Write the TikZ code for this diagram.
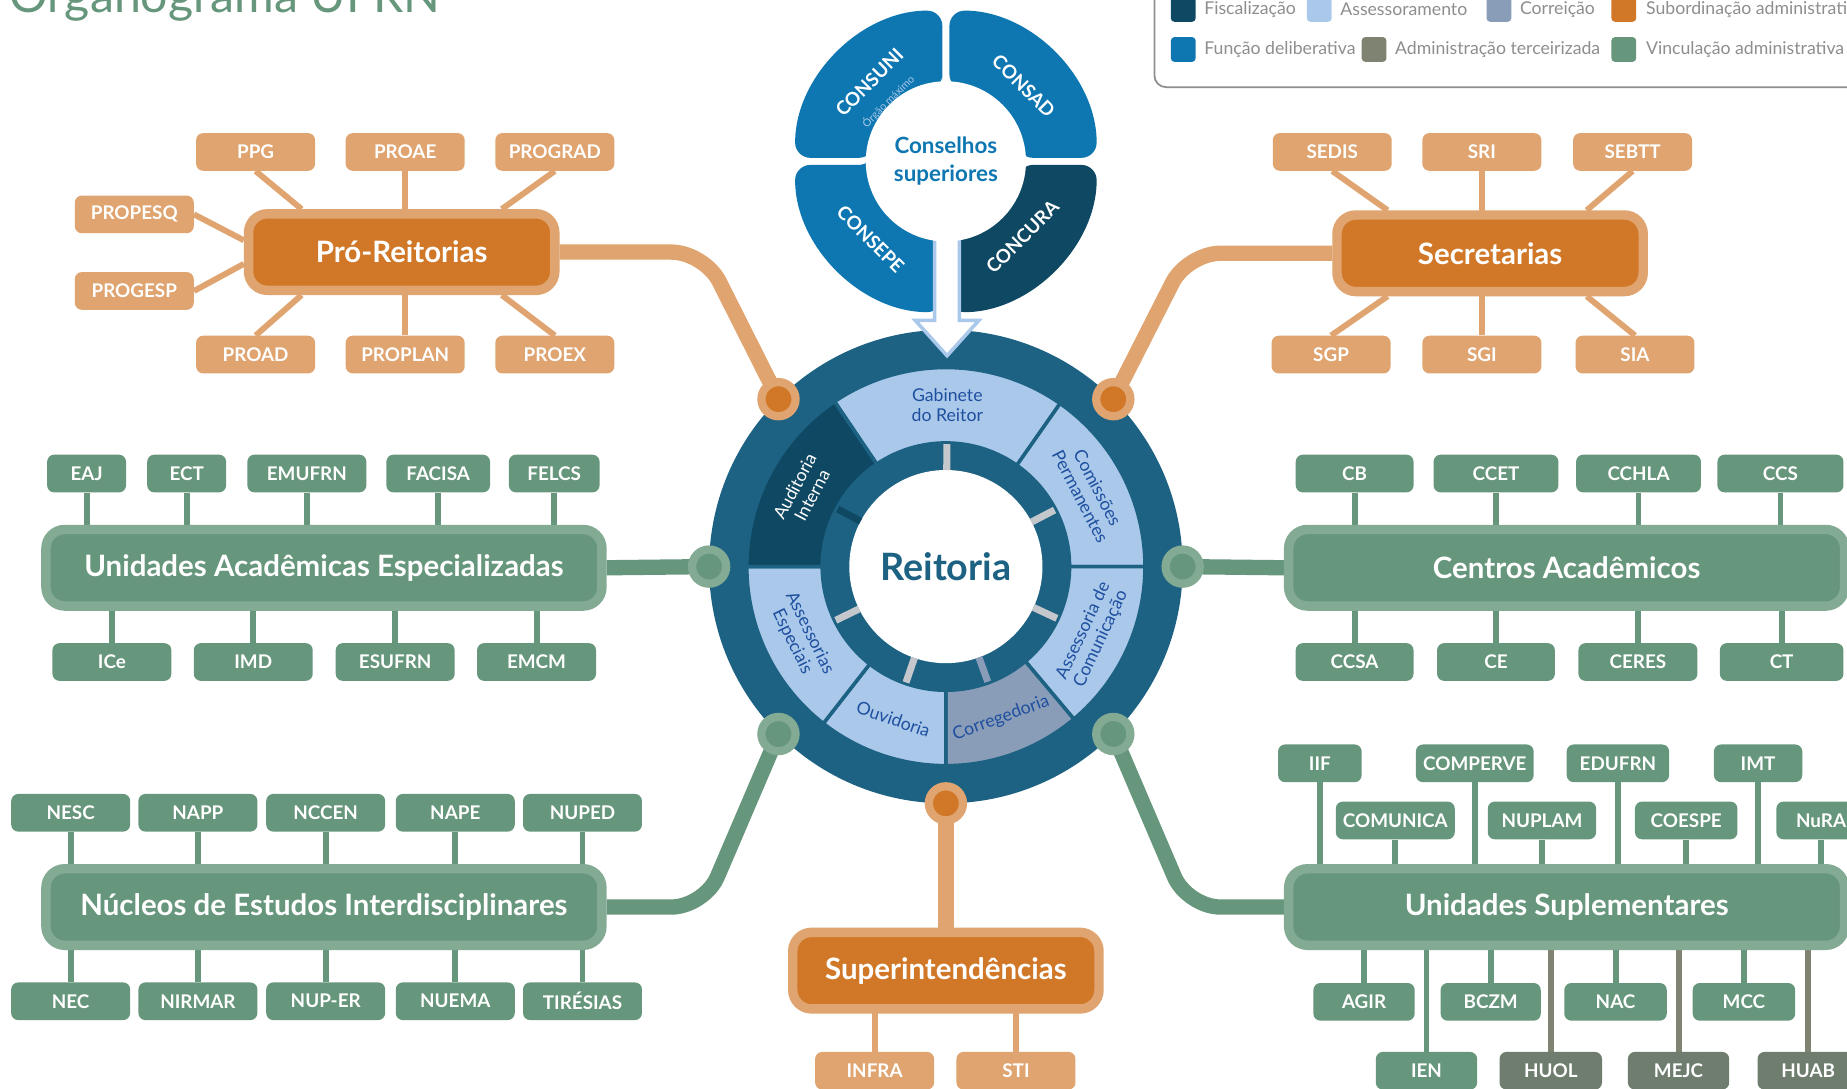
\documentclass[tikz,border=0pt]{standalone}
\usepackage{fontspec}
\setmainfont{Lato}
\usetikzlibrary{calc,backgrounds,positioning}

\definecolor{fisc}{HTML}{0F4862}
\definecolor{assess}{HTML}{A9C8EA}
\definecolor{correi}{HTML}{8A9DB8}
\definecolor{subord}{HTML}{D17828}
\definecolor{delib}{HTML}{0E77B2}
\definecolor{terc}{HTML}{7F8372}
\definecolor{hosp}{HTML}{6E7D6E}
\definecolor{vinc}{HTML}{66967B}
\definecolor{orlight}{HTML}{DFA46F}
\definecolor{grlight}{HTML}{83AA93}
\definecolor{ring}{HTML}{1D6283}
\definecolor{segtext}{HTML}{1F4F9F}
\definecolor{tickgray}{HTML}{C4C8CC}
\definecolor{legtext}{HTML}{8E8E8E}

\tikzset{
  mainbox/.style={rounded corners=16pt, line width=8pt, minimum width=260pt,
    minimum height=65pt, inner sep=0pt, text=white,
    font=\fontsize{25}{28}\selectfont\bfseries},
  ormain/.style={mainbox, fill=subord, draw=orlight},
  grmain/.style={mainbox, fill=vinc, draw=grlight, minimum width=472pt},
  subbox/.style={rounded corners=6pt, minimum width=101pt, minimum height=32pt,
    inner sep=0pt, text=white, font=\fontsize{16}{18}\selectfont\bfseries},
  orsub/.style={subbox, fill=orlight},
  grsub/.style={subbox, fill=vinc},
  hosub/.style={subbox, fill=hosp},
  orlink/.style={draw=orlight, line width=5pt},
  grlink/.style={draw=vinc, line width=5pt},
  holink/.style={draw=terc, line width=5pt},
  orbranch/.style={draw=orlight, line width=13pt, rounded corners=28pt},
  grbranch/.style={draw=vinc, line width=13pt, rounded corners=28pt},
  ordot/.style={circle, fill=subord, draw=orlight, line width=7pt,
    minimum size=29pt, inner sep=0pt},
  grdot/.style={circle, fill=vinc, draw=grlight, line width=7pt,
    minimum size=29pt, inner sep=0pt},
  segtxt/.style={text=segtext, align=center, inner sep=0pt,
    font=\fontsize{15}{16.5}\selectfont},
  conslbl/.style={text=white, inner sep=0pt, font=\fontsize{16}{18}\selectfont\bfseries},
  legsq/.style={rounded corners=3pt, minimum size=21pt, inner sep=0pt},
  legtxt/.style={text=legtext, inner sep=0pt, font=\fontsize{15}{17}\selectfont},
}

\begin{document}
\begin{tikzpicture}[x=1pt,y=1pt]
  %%%%% START %%%%%
  \path[use as bounding box] (0,0) rectangle (1568,-924);
  \begin{scope}[on background layer]
    \fill[white] (0,0) rectangle (1568,-924);
  \end{scope}
  \clip (0,0) rectangle (1568,-924);

  % title and legend
  \node[anchor=base west, inner sep=0pt, text=vinc, font=\fontsize{41}{44}\selectfont]
    (title) at (8,-11) {Organograma UFRN};

  \draw[draw=legtext, line width=1.5pt, rounded corners=10pt] (980,-74) rectangle (1640,30);
  \node[legsq, fill=fisc] (lgfisc) at (1004.5,-8) {};
  \node[legtxt, right=7pt of lgfisc] {Fiscalização};
  \node[legsq, fill=assess] (lgassess) at (1120,-8) {};
  \node[legtxt, right=7pt of lgassess] {Assessoramento};
  \node[legsq, fill=correi] (lgcorrei) at (1272.5,-8) {};
  \node[legtxt, right=7pt of lgcorrei] {Correição};
  \node[legsq, fill=subord] (lgsubord) at (1378.5,-8) {};
  \node[legtxt, right=8pt of lgsubord] {Subordinação administrativa};
  \node[legsq, fill=delib] (lgdelib) at (1004.5,-42) {};
  \node[legtxt, right=7pt of lgdelib] {Função deliberativa};
  \node[legsq, fill=terc] (lgterc) at (1166.5,-42) {};
  \node[legtxt, right=7pt of lgterc] {Administração terceirizada};
  \node[legsq, fill=vinc] (lgvinc) at (1378.5,-42) {};
  \node[legtxt, right=8pt of lgvinc] {Vinculação administrativa};

  % reitoria
  \begin{scope}[shift={(803,-481)}]
    \fill[ring] (0,0) circle (201);
    \foreach \a/\b/\c in {55/124/assess, 0/55/assess, -50/0/assess, -90/-50/correi,
                          -128/-90/assess, -180/-128/assess, 124/180/fisc}
      \filldraw[fill=\c, draw=ring, line width=3pt]
        (\a:105) arc[start angle=\a, end angle=\b, radius=105]
        -- (\b:169) arc[start angle=\b, end angle=\a, radius=169] -- cycle;
    \fill[white] (0,0) circle (82);
    \foreach \a/\c in {89.5/tickgray, 27.5/tickgray, -25/tickgray, -70/correi,
                       -109/tickgray, -154/tickgray, 152/fisc}
      \draw[\c, line width=6pt] (\a:82) -- (\a:104);
    \node[text=ring, font=\fontsize{32}{34}\selectfont\bfseries] (reit) at (0,0) {Reitoria};

    \node[segtxt] (gab) at (89.5:137) {Gabinete\\do Reitor};
    \node[segtxt, rotate=-62.5] (comis) at (27.5:137) {Comissões\\Permanentes};
    \node[segtxt, rotate=65] (ascom) at (-25:137) {Assessoria de\\Comunicação};
    \node[segtxt, rotate=20] (correg) at (-70:137) {Corregedoria};
    \node[segtxt, rotate=-19] (ouvid) at (-109:137) {Ouvidoria};
    \node[segtxt, rotate=-64] (asesp) at (-154:137) {Assessorias\\Especiais};
    \node[segtxt, rotate=62, text=white] (audit) at (152:137) {Auditoria\\Interna};

    \node[ordot] (dpro) at (135:201) {};
    \node[ordot] (dsec) at (45:201) {};
    \node[grdot] (duae) at (180:201) {};
    \node[grdot] (dcen) at (0:201) {};
    \node[grdot] (dnuc) at (225:201) {};
    \node[grdot] (dusup) at (-45:201) {};
    \node[ordot] (dsup) at (-90:201) {};
  \end{scope}

  % conselhos superiores
  \foreach \a/\c/\dx/\dy in {0/delib/3/3, 90/delib/-3/3, 180/delib/-3/-3, 270/fisc/3/-3}{
    \pgfmathsetmacro{\b}{\a+90}
    \begin{scope}[shift={(803+\dx,-137+\dy)}]
      \fill[\c, rounded corners=13pt] (\a:58) -- (\a:125)
        arc[start angle=\a, end angle=\b, radius=125]
        -- (\b:58) arc[start angle=\b, end angle=\a, radius=58] -- cycle;
    \end{scope}
  }
  \filldraw[fill=white, draw=assess, line width=3pt]
    (793.5,-180) -- (793.5,-272) -- (777,-272) -- (804,-302) -- (831,-272)
    -- (814.5,-272) -- (814.5,-180);
  \fill[white] (803,-137) circle (68);
  \node[text=delib, align=center, font=\fontsize{19}{24}\selectfont\bfseries]
    (cons) at (803,-137) {Conselhos\\superiores};
  \node[conslbl, rotate=45] (consuni) at (738,-70) {CONSUNI};
  \node[inner sep=0pt, rotate=45, text=assess, font=\fontsize{9}{10}\selectfont]
    (orgao) at (754,-86) {Órgão máximo};
  \node[conslbl, rotate=-45] (consad) at (869,-73) {CONSAD};
  \node[conslbl, rotate=-45] (consepe) at (739,-203) {CONSEPE};
  \node[conslbl, rotate=45] (concura) at (868,-201) {CONCURA};

  % pro-reitorias
  \node[ormain] (pro) at (341,-214) {Pró-Reitorias};
  \node[orsub] (ppg) at (217,-129) {PPG};
  \node[orsub] (proae) at (344,-129) {PROAE};
  \node[orsub] (prograd) at (471,-129) {PROGRAD};
  \node[orsub] (propesq) at (114,-182) {PROPESQ};
  \node[orsub] (progesp) at (114,-247) {PROGESP};
  \node[orsub] (proad) at (217,-301) {PROAD};
  \node[orsub] (proplan) at (344,-301) {PROPLAN};
  \node[orsub] (proex) at (471,-301) {PROEX};

  % secretarias
  \node[ormain] (sec) at (1265,-215) {Secretarias};
  \node[orsub] (sedis) at (1131,-129) {SEDIS};
  \node[orsub] (sri) at (1258,-129) {SRI};
  \node[orsub] (sebtt) at (1386,-129) {SEBTT};
  \node[orsub] (sgp) at (1130,-301) {SGP};
  \node[orsub] (sgi) at (1258,-301) {SGI};
  \node[orsub] (sia) at (1388,-301) {SIA};

  % unidades academicas especializadas
  \node[grmain] (uae) at (275,-482) {Unidades Acadêmicas Especializadas};
  \node[grsub, minimum width=67pt] (eaj) at (73.5,-402) {EAJ};
  \node[grsub, minimum width=67pt] (ect) at (158.5,-402) {ECT};
  \node[grsub] (emufrn) at (260.5,-402) {EMUFRN};
  \node[grsub, minimum width=88pt] (facisa) at (372,-402) {FACISA};
  \node[grsub, minimum width=77pt] (felcs) at (470.5,-402) {FELCS};
  \node[grsub] (ice) at (95,-562) {ICe};
  \node[grsub] (imd) at (215,-562) {IMD};
  \node[grsub] (esufrn) at (335.5,-562) {ESUFRN};
  \node[grsub] (emcm) at (455.5,-562) {EMCM};

  % centros academicos
  \node[grmain] (cen) at (1330,-482) {Centros Acadêmicos};
  \node[grsub, minimum width=100pt] (cb) at (1150,-402) {CB};
  \node[grsub, minimum width=106pt] (ccet) at (1270,-402) {CCET};
  \node[grsub, minimum width=106pt] (cchla) at (1391,-402) {CCHLA};
  \node[grsub, minimum width=107pt] (ccs) at (1511.5,-402) {CCS};
  \node[grsub, minimum width=100pt] (ccsa) at (1150,-562) {CCSA};
  \node[grsub, minimum width=100pt] (ce) at (1270,-562) {CE};
  \node[grsub] (ceres) at (1390.5,-562) {CERES};
  \node[grsub, minimum width=105pt] (ct) at (1512.5,-562) {CT};

  % nucleos
  \node[grmain] (nuc) at (275,-770) {Núcleos de Estudos Interdisciplinares};
  \node[grsub] (nesc) at (60,-690) {NESC};
  \node[grsub] (napp) at (168,-690) {NAPP};
  \node[grsub] (nccen) at (276.5,-690) {NCCEN};
  \node[grsub] (nape) at (386.5,-690) {NAPE};
  \node[grsub] (nuped) at (494.5,-690) {NUPED};
  \node[grsub] (nec) at (60,-850) {NEC};
  \node[grsub] (nirmar) at (168,-850) {NIRMAR};
  \node[grsub] (nuper) at (276.5,-850) {NUP-ER};
  \node[grsub] (nuema) at (386.5,-850) {NUEMA};
  \node[grsub] (tiresias) at (494.5,-850) {TIRÉSIAS};

  % unidades suplementares
  \node[grmain] (usup) at (1330,-770) {Unidades Suplementares};
  \node[grsub, minimum width=71pt] (iif) at (1120.5,-648) {IIF};
  \node[grsub, minimum width=100pt] (comperve) at (1252,-648) {COMPERVE};
  \node[grsub, minimum width=87pt] (edufrn) at (1373.5,-648) {EDUFRN};
  \node[grsub, minimum width=75pt] (imt) at (1492.5,-648) {IMT};
  \node[grsub] (comunica) at (1184.5,-696.5) {COMUNICA};
  \node[grsub, minimum width=92pt] (nuplam) at (1309,-696.5) {NUPLAM};
  \node[grsub, minimum width=87pt] (coespe) at (1431.5,-696.5) {COESPE};
  \node[grsub, minimum width=76pt] (nura) at (1546,-696.5) {NuRA};
  \node[grsub, minimum width=86pt] (agir) at (1158,-850.5) {AGIR};
  \node[grsub, minimum width=85pt] (bczm) at (1265.5,-850.5) {BCZM};
  \node[grsub, minimum width=87pt] (nac) at (1371.5,-850.5) {NAC};
  \node[grsub, minimum width=87pt] (mcc) at (1480.5,-850.5) {MCC};
  \node[grsub, minimum width=86pt] (ien) at (1211,-909) {IEN};
  \node[hosub, minimum width=87pt] (huol) at (1316.5,-909) {HUOL};
  \node[hosub, minimum width=86pt] (mejc) at (1425,-909) {MEJC};
  \node[hosub, minimum width=86pt] (huab) at (1535,-909) {HUAB};

  % superintendencias
  \node[ormain] (sup) at (803,-824) {Superintendências};
  \node[orsub] (infra) at (742.5,-909) {INFRA};
  \node[orsub] (sti) at (862.5,-909) {STI};

  % connectors
  \coordinate (kpro) at (598,-214);
  \coordinate (ksec) at (1008,-215);
  \coordinate (knuc) at (598,-770);
  \coordinate (kusup) at (1008,-770);
  \begin{scope}[on background layer]
    \draw[orbranch] (dpro.center) -- (kpro) -- (pro.east);
    \draw[orbranch] (dsec.center) -- (ksec) -- (sec.west);
    \draw[grbranch] (duae.center) -- (uae.east);
    \draw[grbranch] (dcen.center) -- (cen.west);
    \draw[grbranch] (dnuc.center) -- (knuc) -- (nuc.east);
    \draw[grbranch] (dusup.center) -- (kusup) -- (usup.west);
    \draw[orbranch] (dsup.center) -- (sup.north);

    \draw[orlink] (ppg.south) -- ($(pro.north)+(-85,0)$);
    \draw[orlink] (proae) -- (proae |- pro.center);
    \draw[orlink] (prograd.south) -- ($(pro.north)+(85,0)$);
    \draw[orlink] (propesq.east) -- ($(pro.west)+(0,10)$);
    \draw[orlink] (progesp.east) -- ($(pro.west)+(0,-10)$);
    \draw[orlink] (proad.north) -- ($(pro.south)+(-85,0)$);
    \draw[orlink] (proplan) -- (proplan |- pro.center);
    \draw[orlink] (proex.north) -- ($(pro.south)+(85,0)$);

    \draw[orlink] (sedis.south) -- ($(sec.north)+(-87,0)$);
    \draw[orlink] (sri) -- (sri |- sec.center);
    \draw[orlink] (sebtt.south) -- ($(sec.north)+(82,0)$);
    \draw[orlink] (sgp.north) -- ($(sec.south)+(-87,0)$);
    \draw[orlink] (sgi) -- (sgi |- sec.center);
    \draw[orlink] (sia.north) -- ($(sec.south)+(82,0)$);

    \foreach \n in {eaj,ect,emufrn,facisa,felcs,ice,imd,esufrn,emcm}
      \draw[grlink] (\n) -- (\n |- uae.center);
    \foreach \n in {cb,ccet,cchla,ccs,ccsa,ce,ceres,ct}
      \draw[grlink] (\n) -- (\n |- cen.center);
    \foreach \n in {nesc,napp,nccen,nape,nuped,nec,nirmar,nuper,nuema,tiresias}
      \draw[grlink] (\n) -- (\n |- nuc.center);
    \foreach \n in {iif,comperve,edufrn,imt,comunica,nuplam,coespe,nura,agir,bczm,nac,mcc,ien}
      \draw[grlink] (\n) -- (\n |- usup.center);
    \foreach \n in {huol,mejc,huab}
      \draw[holink] (\n) -- (\n |- usup.center);
    \foreach \n in {infra,sti}
      \draw[orlink] (\n) -- (\n |- sup.center);
  \end{scope}
  %%%%% END %%%%%
\end{tikzpicture}
\end{document}
